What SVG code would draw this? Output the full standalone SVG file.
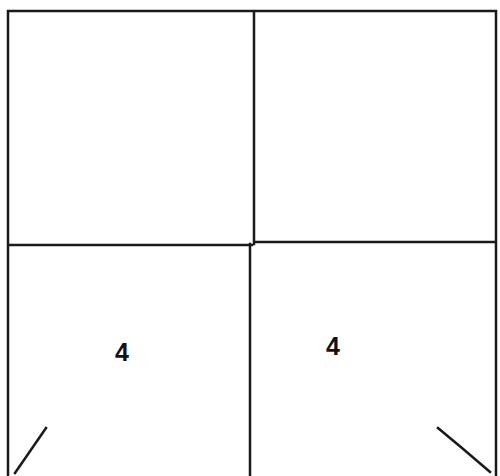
<svg xmlns="http://www.w3.org/2000/svg" width="500" height="476" viewBox="0 0 500 476">
<style>
.ln{stroke:#1a1a1a;stroke-width:2.5;fill:none;stroke-linecap:square}
.lbl{font-family:"Liberation Sans",Arial,sans-serif;font-size:25px;font-weight:bold;fill:#111;text-anchor:middle}
</style>
<rect width="500" height="476" fill="#fff"/>
<g id="grid">
<path class="ln" d="M8,11 H496 M8,11 V476 M496,11 V476 M254,11 V244 M250,244 V476 M8,245 H252 M254,242 H496"/>
</g>
<g id="cell-bl"><text class="lbl" x="122" y="361">4</text></g>
<g id="cell-br"><text class="lbl" x="333" y="355">4</text></g>
<g id="connectors">
<path class="ln" stroke-width="2" d="M15,473 L46,428"/>
<path class="ln" stroke-width="2" d="M438,428 L462,448 L490,472"/>
</g>
</svg>
